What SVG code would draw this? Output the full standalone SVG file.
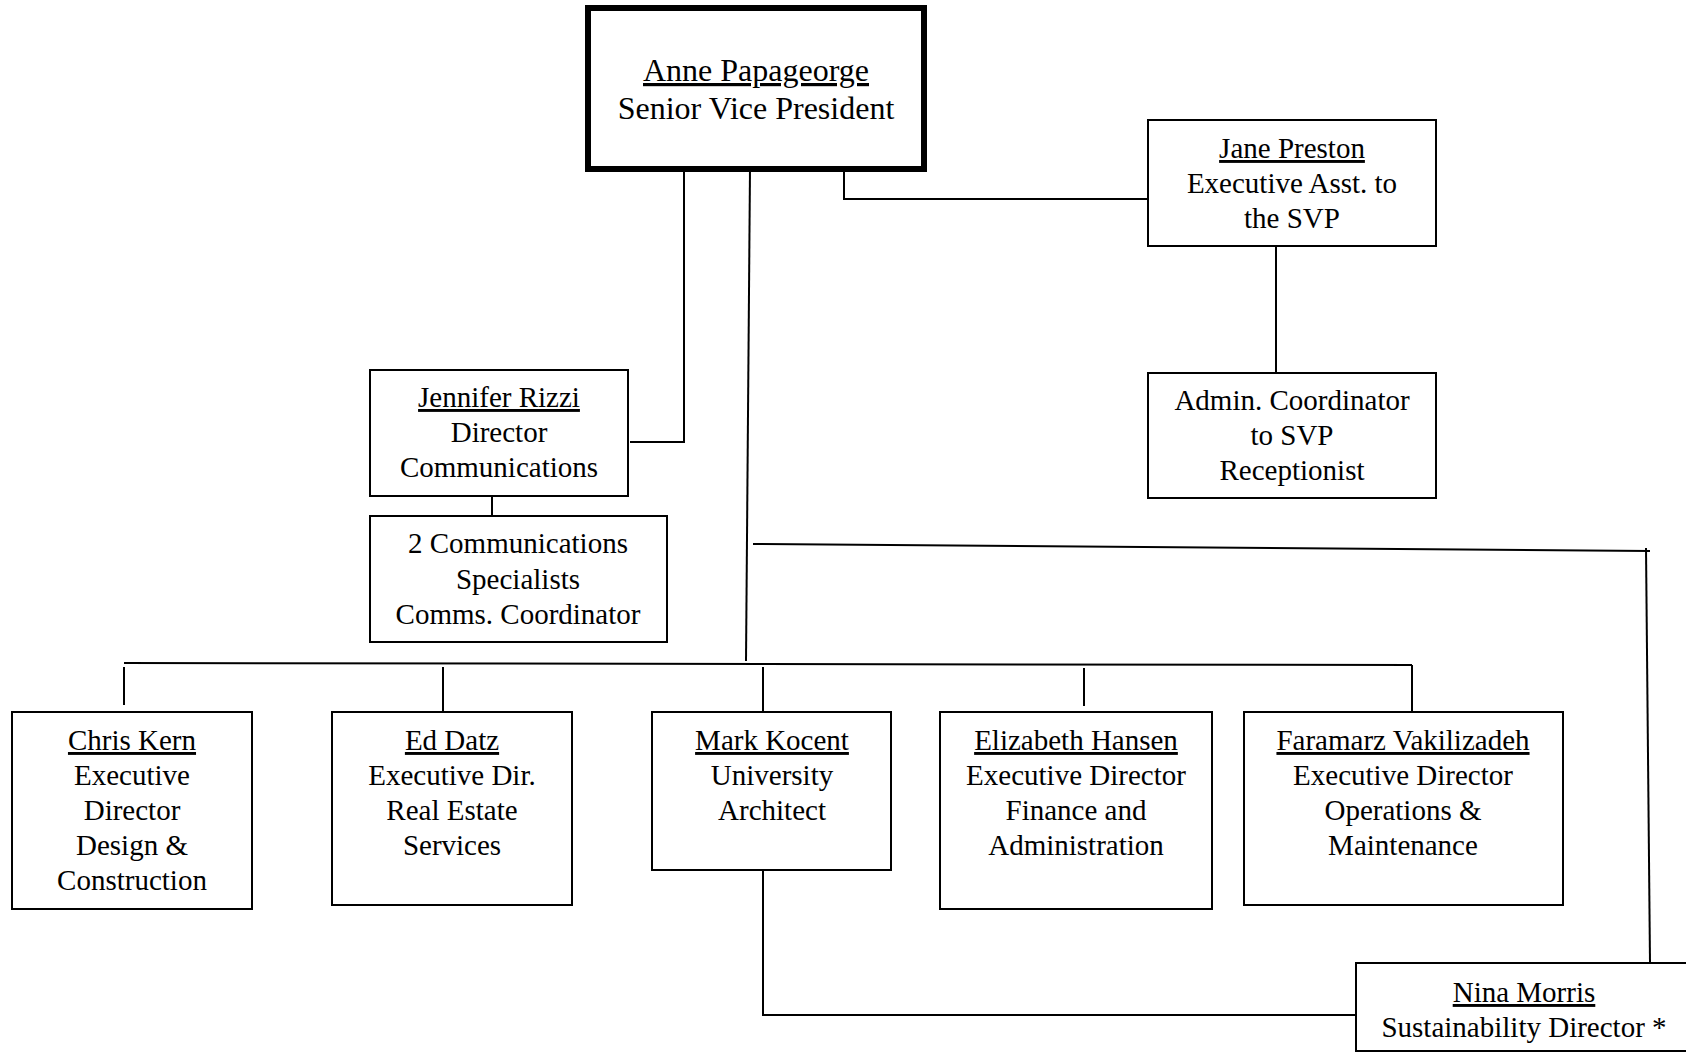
<svg xmlns="http://www.w3.org/2000/svg" width="1686" height="1054" viewBox="0 0 1686 1054">
<style>
.box{fill:#fff;stroke:#000;stroke-width:2}
.svp{fill:#fff;stroke:#000;stroke-width:6}
.t{font-family:"Liberation Serif","Times New Roman",serif;font-size:29px;fill:#000;text-anchor:middle}
.big{font-size:32px}
.u{text-decoration:underline}
.c{fill:none;stroke:#000;stroke-width:2}
</style>
<rect width="1686" height="1054" fill="#fff"/>
<g id="connectors">
<path class="c" d="M684 169 V442 H630"/>
<path class="c" d="M492 496 V516"/>
<path class="c" d="M844 169 V199 H1148"/>
<path class="c" d="M1276 246 V373"/>
<path class="c" d="M750 169 L746 661"/>
<path class="c" d="M124 663 L1412 665"/>
<path class="c" d="M124 667 V705"/>
<path class="c" d="M443 667 V712"/>
<path class="c" d="M763 667 V712"/>
<path class="c" d="M1084 668 V706"/>
<path class="c" d="M1412 665 V712"/>
<path class="c" d="M753 544 L1650 551"/>
<path class="c" d="M1646 548 L1650 963"/>
<path class="c" d="M763 870 V1015 H1356"/>
</g>
<g id="svp">
<rect class="svp" x="588" y="8" width="336" height="161"/>
<text class="t big u" x="756" y="81">Anne Papageorge</text>
<text class="t big" x="756" y="119">Senior Vice President</text>
</g>
<g id="jane">
<rect class="box" x="1148" y="120" width="288" height="126"/>
<text class="t u" x="1292" y="158">Jane Preston</text>
<text class="t" x="1292" y="193">Executive Asst. to</text>
<text class="t" x="1292" y="228">the SVP</text>
</g>
<g id="admin">
<rect class="box" x="1148" y="373" width="288" height="125"/>
<text class="t" x="1292" y="410">Admin. Coordinator</text>
<text class="t" x="1292" y="445">to SVP</text>
<text class="t" x="1292" y="480">Receptionist</text>
</g>
<g id="jennifer">
<rect class="box" x="370" y="370" width="258" height="126"/>
<text class="t u" x="499" y="407">Jennifer Rizzi</text>
<text class="t" x="499" y="442">Director</text>
<text class="t" x="499" y="477">Communications</text>
</g>
<g id="comms">
<rect class="box" x="370" y="516" width="297" height="126"/>
<text class="t" x="518" y="553">2 Communications</text>
<text class="t" x="518" y="589">Specialists</text>
<text class="t" x="518" y="624">Comms. Coordinator</text>
</g>
<g id="chris">
<rect class="box" x="12" y="712" width="240" height="197"/>
<text class="t u" x="132" y="750">Chris Kern</text>
<text class="t" x="132" y="785">Executive</text>
<text class="t" x="132" y="820">Director</text>
<text class="t" x="132" y="855">Design &amp;</text>
<text class="t" x="132" y="890">Construction</text>
</g>
<g id="ed">
<rect class="box" x="332" y="712" width="240" height="193"/>
<text class="t u" x="452" y="750">Ed Datz</text>
<text class="t" x="452" y="785">Executive Dir.</text>
<text class="t" x="452" y="820">Real Estate</text>
<text class="t" x="452" y="855">Services</text>
</g>
<g id="mark">
<rect class="box" x="652" y="712" width="239" height="158"/>
<text class="t u" x="772" y="750">Mark Kocent</text>
<text class="t" x="772" y="785">University</text>
<text class="t" x="772" y="820">Architect</text>
</g>
<g id="elizabeth">
<rect class="box" x="940" y="712" width="272" height="197"/>
<text class="t u" x="1076" y="750">Elizabeth Hansen</text>
<text class="t" x="1076" y="785">Executive Director</text>
<text class="t" x="1076" y="820">Finance and</text>
<text class="t" x="1076" y="855">Administration</text>
</g>
<g id="faramarz">
<rect class="box" x="1244" y="712" width="319" height="193"/>
<text class="t u" x="1403" y="750">Faramarz Vakilizadeh</text>
<text class="t" x="1403" y="785">Executive Director</text>
<text class="t" x="1403" y="820">Operations &amp;</text>
<text class="t" x="1403" y="855">Maintenance</text>
</g>
<g id="nina">
<rect class="box" x="1356" y="963" width="340" height="88"/>
<text class="t u" x="1524" y="1002">Nina Morris</text>
<text class="t" x="1524" y="1037">Sustainability Director *</text>
</g>
</svg>
